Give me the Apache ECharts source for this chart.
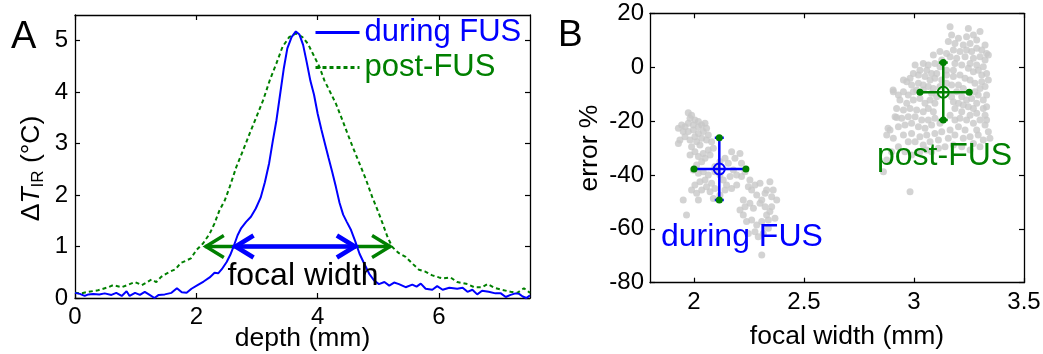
<!DOCTYPE html>
<html>
<head>
<meta charset="utf-8">
<script src="https://cdn.jsdelivr.net/npm/echarts@6/dist/echarts.min.js"></script>
<style>
html,body{margin:0;padding:0;background:#fff;}
#chart{width:1043px;height:354px;}
</style>
</head>
<body>
<div id="chart"></div>
<script>
// ---------- Panel A data ----------
var duringDepth = [0,0.08,0.16,0.22,0.30,0.40,0.49,0.60,0.68,0.77,0.85,0.90,0.99,1.07,1.15,1.23,1.31,1.38,1.48,1.59,1.68,1.76,1.84,1.92,2.02,2.12,2.22,2.30,2.36,2.42,2.50,2.56,2.62,2.68,2.74,2.82,2.90,2.98,3.06,3.13,3.20,3.26,3.32,3.38,3.44,3.50,3.57,3.64,3.70,3.76,3.82,3.88,3.94,4.00,4.06,4.12,4.18,4.24,4.30,4.36,4.42,4.48,4.55,4.62,4.69,4.77,4.85,4.93,5.01,5.10,5.18,5.26,5.34,5.45,5.56,5.63,5.70,5.78,5.89,5.97,6.06,6.17,6.30,6.39,6.47,6.55,6.63,6.71,6.82,6.93,7.02,7.10,7.18,7.26,7.32,7.38,7.44,7.50];
var duringTemp  = [0.10,0.08,0.04,0.07,0.08,0.07,0.09,0.06,0.10,0.04,0.13,0.04,0.10,0.06,0.12,0.06,0.00,0.06,0.07,0.10,0.19,0.11,0.10,0.18,0.25,0.32,0.40,0.49,0.48,0.56,0.70,0.84,1.02,1.22,1.36,1.48,1.58,1.74,1.95,2.25,2.62,3.05,3.45,3.95,4.45,4.85,5.07,5.18,5.12,4.92,4.58,4.22,3.95,3.58,3.28,3.00,2.72,2.45,2.16,1.85,1.62,1.48,1.32,1.10,0.86,0.66,0.47,0.34,0.27,0.31,0.24,0.30,0.27,0.21,0.26,0.22,0.28,0.18,0.16,0.23,0.16,0.20,0.18,0.20,0.12,0.16,0.07,0.14,0.12,0.09,0.09,0.02,0.06,0.09,0.08,0.03,0.00,0.05];
var postDepth = [0,0.10,0.22,0.38,0.55,0.63,0.77,0.88,0.99,1.10,1.18,1.26,1.34,1.42,1.50,1.58,1.66,1.74,1.82,1.91,2.00,2.11,2.22,2.30,2.38,2.47,2.55,2.66,2.77,2.88,2.99,3.10,3.21,3.32,3.42,3.53,3.64,3.75,3.84,3.95,4.03,4.11,4.22,4.30,4.41,4.49,4.58,4.69,4.80,4.90,4.99,5.07,5.15,5.23,5.34,5.45,5.56,5.67,5.78,5.89,6.00,6.06,6.19,6.30,6.47,6.58,6.71,6.80,6.91,7.04,7.18,7.29,7.40,7.50];
var postTemp  = [0.10,0.09,0.12,0.15,0.21,0.25,0.21,0.26,0.31,0.25,0.30,0.36,0.31,0.41,0.47,0.52,0.56,0.68,0.72,0.77,0.93,1.06,1.25,1.45,1.70,1.90,2.16,2.55,2.87,3.20,3.52,3.84,4.23,4.56,4.88,5.07,5.14,5.07,4.94,4.68,4.49,4.23,3.97,3.78,3.45,3.20,2.93,2.61,2.29,1.96,1.70,1.45,1.19,0.99,0.87,0.80,0.67,0.55,0.51,0.44,0.40,0.38,0.40,0.31,0.27,0.21,0.21,0.27,0.20,0.16,0.12,0.10,0.19,0.10];
// focal-width arrows: [level, left tip, right tip]
var arrowLevel = [1, 1];
var arrowLeft  = [2.14, 2.63];
var arrowRight = [5.21, 4.63];
var depthTicks = [0, 2, 4, 6];
var tempTicks  = [0, 1, 2, 3, 4, 5];

// ---------- Panel B data ----------
var duringX = [1.974,1.989,1.982,2.004,2.020,1.997,1.974,1.959,1.944,1.929,1.951,1.974,1.997,2.020,2.035,2.050,2.057,2.042,2.020,2.004,1.959,1.936,1.929,1.982,2.012,2.035,2.065,2.057,2.080,2.027,1.989,2.004,1.982,2.020,2.042,2.065,2.088,2.073,2.050,2.035,2.012,1.997,2.020,2.042,2.065,2.050,2.027,2.004,1.989,2.012,2.035,2.057,2.080,2.073,2.088,2.020,1.951,1.966,2.095,2.118,2.141,2.171,2.186,2.209,2.156,2.179,2.216,2.194,2.216,2.232,2.254,2.277,2.300,2.247,2.194,2.171,2.148,2.133,2.118,2.095,2.164,2.141,2.118,2.095,2.262,2.285,2.323,2.308,2.330,2.345,2.360,2.353,2.376,2.323,2.300,2.254,2.232,2.209,2.224,2.239,2.262,2.285,2.308,2.330,2.345,2.353,2.368,2.338,2.315,2.292,2.277,2.247,2.308,2.224,2.270,2.338];
var duringY = [-16.9,-17.8,-19.0,-19.6,-20.2,-21.5,-20.8,-22.1,-21.5,-22.7,-23.9,-23.9,-23.3,-22.1,-21.5,-20.8,-22.7,-23.9,-24.6,-25.8,-25.8,-27.0,-28.3,-27.0,-27.7,-26.4,-25.2,-27.0,-27.7,-28.9,-29.5,-31.4,-32.6,-33.2,-32.0,-30.7,-30.1,-32.6,-33.8,-35.1,-36.3,-38.2,-39.4,-38.8,-40.0,-41.9,-42.5,-43.7,-45.6,-46.8,-45.6,-44.4,-43.1,-46.2,-48.7,-49.3,-49.3,-54.9,-36.9,-35.1,-33.8,-31.4,-33.8,-32.0,-35.7,-38.2,-35.7,-40.0,-40.6,-38.8,-41.9,-43.7,-43.1,-44.4,-43.7,-45.0,-43.7,-41.9,-40.0,-38.8,-40.6,-45.6,-47.4,-45.0,-45.6,-47.4,-46.8,-49.3,-45.6,-42.5,-45.6,-48.1,-49.3,-51.8,-50.5,-50.5,-51.8,-53.0,-54.9,-57.3,-56.7,-58.6,-57.3,-54.9,-53.6,-51.8,-56.1,-59.8,-61.7,-62.9,-61.1,-61.7,-69.7,-49.3,-52.4,-56.7];
var postX = [3.164,3.247,3.171,3.202,3.239,3.270,3.300,3.285,3.255,3.224,3.186,3.156,3.323,3.308,3.330,3.285,3.262,3.239,3.209,3.179,3.148,3.118,3.088,3.164,3.194,3.232,3.270,3.300,3.323,3.338,3.255,3.285,3.315,3.330,3.308,3.292,3.270,3.247,3.217,3.186,3.095,3.065,3.042,3.005,3.027,3.058,3.080,3.095,3.073,3.050,3.020,2.997,2.982,2.967,2.952,2.989,3.020,3.042,3.065,3.088,3.179,3.209,3.232,3.255,3.277,3.308,3.338,3.323,3.300,3.277,3.292,3.330,3.315,3.202,3.224,3.194,3.217,3.239,3.262,3.285,3.270,3.247,3.224,3.202,3.179,3.171,3.186,3.217,3.255,3.285,3.315,3.323,3.300,3.270,3.239,3.209,3.186,3.164,2.906,2.929,2.952,2.974,2.997,2.936,2.967,2.997,3.027,3.050,3.073,3.095,3.103,3.088,3.065,3.042,3.012,2.982,2.952,2.921,2.914,2.944,2.974,3.005,3.035,3.065,3.095,3.118,3.080,3.050,3.020,2.989,2.959,2.929,2.891,2.876,2.906,2.952,2.989,3.027,3.058,3.095,3.126,3.164,3.202,3.232,3.186,3.156,3.111,3.073,3.042,3.005,2.974,3.330,3.323,3.338,3.292,3.255,3.224,3.270,3.315,3.345,3.300,3.255,3.217,3.179,3.141,3.111,3.080,3.058,3.027,2.989,2.959,2.929,2.898,2.876,2.861,2.982,3.285,3.330,3.171,3.148,3.126,3.012,3.042,3.080,3.118,3.148,3.118,3.179,3.103,3.148,3.126,2.882,2.905,2.921];
var postY = [15.0,14.4,11.9,10.7,11.3,11.9,13.2,10.1,8.8,8.2,8.8,9.5,8.2,6.4,5.1,7.0,5.8,6.4,5.8,6.4,5.1,5.8,4.5,3.9,3.3,3.9,3.3,3.9,2.7,4.5,1.4,0.8,0.2,-2.3,-2.9,-1.1,-1.7,-0.4,0.8,1.4,1.4,0.8,1.4,0.8,-1.1,-1.1,-2.3,-4.1,-4.8,-3.5,-2.9,-2.3,-4.1,-5.4,-4.8,-6.6,-6.0,-6.6,-7.2,-7.9,-3.5,-2.9,-4.1,-4.8,-6.0,-5.4,-4.8,-7.2,-7.9,-9.1,-10.3,-10.3,-12.2,-6.6,-7.9,-9.1,-11.0,-12.2,-11.6,-13.4,-15.3,-14.7,-14.0,-13.4,-12.8,-11.0,-15.3,-16.5,-17.8,-17.1,-15.3,-17.8,-19.6,-20.8,-19.6,-19.0,-19.6,-17.8,-9.1,-10.3,-9.1,-10.3,-9.1,-12.2,-13.4,-12.2,-11.6,-13.4,-12.2,-13.4,-11.0,-16.5,-15.3,-16.5,-15.9,-15.3,-15.9,-15.3,-18.4,-19.0,-18.4,-18.4,-19.6,-19.6,-19.0,-20.8,-21.5,-22.7,-22.1,-20.8,-21.5,-22.1,-23.3,-25.2,-26.4,-25.2,-24.6,-25.8,-25.2,-24.6,-24.0,-23.3,-22.1,-23.3,-25.2,-26.4,-27.0,-27.7,-28.9,-27.7,-27.7,-14.7,-21.5,-24.0,-25.2,-25.8,-26.4,-28.3,-27.0,-26.4,-29.5,-30.7,-29.5,-28.9,-29.5,-30.1,-31.4,-30.7,-31.4,-32.6,-31.4,-29.5,-31.4,-34.5,-38.8,-46.2,-23.3,-19.6,-6.6,-6.0,-4.8,-8.5,-8.5,-9.7,-7.2,-1.1,0.2,-1.1,-2.3,-2.9,2.7,-22.7,-8.5,-18.7];
// error-bar summaries (during FUS, post-FUS)
var errCenterX = [2.115, 3.133];
var errCenterY = [-37.8, -9.3];
var errXLow  = [2.000, 3.027];
var errXHigh = [2.236, 3.251];
var errYLow  = [-49.3, -19.6];
var errYHigh = [-26.2, 1.7];
var widthTicks = [2, 2.5, 3, 3.5];
var errorTicks = [-80, -60, -40, -20, 0, 20];

// ---------- build ----------
var BLUE = '#0000ff', GREEN = '#008000', GRAY = '#c8c8c8';
var FONT = "'Liberation Sans', Arial, sans-serif";
var TICK_FS = 24, NAME_FS = 26.5;

function zip(a, b) { return a.map(function (v, i) { return [v, b[i]]; }); }

var chart = echarts.init(document.getElementById('chart'), null, {renderer: 'canvas'});

function axisCommon(extra) {
  var o = {
    type: 'value',
    nameMoveOverlap: false,
    axisLine: {show: true, onZero: false, lineStyle: {color: '#000', width: 1.3}},
    axisTick: {show: true, inside: true, length: 5, lineStyle: {color: '#000', width: 1.2}},
    splitLine: {show: false},
    axisLabel: {color: '#000', fontSize: TICK_FS, fontFamily: FONT},
    nameTextStyle: {color: '#000', fontSize: NAME_FS, fontFamily: FONT}
  };
  for (var k in extra) {
    if (typeof extra[k] === 'object' && o[k] && !Array.isArray(extra[k])) {
      o[k] = Object.assign({}, o[k], extra[k]);
    } else o[k] = extra[k];
  }
  return o;
}

var arrowData = arrowLevel.map(function (y, i) { return [arrowLeft[i], arrowRight[i], y]; });
var arrowColors = [GREEN, BLUE];
var arrowWidths = [3.4, 4.6];

var errData = errCenterX.map(function (x, i) {
  return [x, errCenterY[i], errXLow[i], errXHigh[i], errYLow[i], errYHigh[i]];
});
var errColors = [BLUE, GREEN];

var option = {
  backgroundColor: '#fff',
  animation: false,
  textStyle: {fontFamily: FONT},
  title: [
    {text: 'A', left: 11, top: 19, padding: 0, textStyle: {fontSize: 38, fontWeight: 'normal', color: '#000', fontFamily: FONT}},
    {text: 'B', left: 558, top: 17, padding: 0, textStyle: {fontSize: 37, fontWeight: 'normal', color: '#000', fontFamily: FONT}}
  ],
  legend: {
    left: 314, top: 17, orient: 'vertical', itemWidth: 44, itemHeight: 14, itemGap: 4,
    selectedMode: false, padding: 0,
    textStyle: {fontSize: 31, fontFamily: FONT},
    lineStyle: {width: 3},
    itemStyle: {opacity: 0},
    data: [
      {name: 'during FUS', textStyle: {color: BLUE}},
      {name: 'post-FUS', textStyle: {color: GREEN}}
    ]
  },
  grid: [
    {left: 75, top: 15, width: 455, height: 283, containLabel: false, outerBoundsMode: 'none'},
    {left: 650, top: 13.3, width: 374, height: 269.4, containLabel: false, outerBoundsMode: 'none'}
  ],
  xAxis: [
    axisCommon({gridIndex: 0, position: 'bottom', min: 0, max: 7.5,
      name: 'depth (mm)', nameLocation: 'middle', nameGap: 27,
      axisTick: {customValues: depthTicks},
      axisLabel: {customValues: depthTicks, margin: 7}}),
    axisCommon({gridIndex: 0, position: 'top', min: 0, max: 7.5,
      axisTick: {customValues: depthTicks}, axisLabel: {show: false}}),
    axisCommon({gridIndex: 1, position: 'bottom', min: 1.8, max: 3.5,
      name: 'focal width (mm)', nameLocation: 'middle', nameGap: 40,
      nameTextStyle: {padding: [0, 0, 0, 20]},
      axisTick: {customValues: widthTicks},
      axisLabel: {customValues: widthTicks, margin: 8}}),
    axisCommon({gridIndex: 1, position: 'top', min: 1.8, max: 3.5,
      axisTick: {customValues: widthTicks}, axisLabel: {show: false}})
  ],
  yAxis: [
    axisCommon({gridIndex: 0, position: 'left', min: 0, max: 5.5,
      name: '{d|\u0394}{t|T}{s|IR}{n| (\u00b0C)}', nameLocation: 'middle', nameGap: 28,
      nameTextStyle: {padding: [0, 24, 0, 0], rich: {
        d: {fontSize: NAME_FS, fontFamily: FONT, color: '#000', lineHeight: 30},
        t: {fontSize: NAME_FS, fontFamily: FONT, fontStyle: 'italic', color: '#000', lineHeight: 30},
        s: {fontSize: 17, fontFamily: FONT, color: '#000', lineHeight: 17, verticalAlign: 'bottom'},
        n: {fontSize: NAME_FS, fontFamily: FONT, color: '#000', lineHeight: 30}
      }},
      axisTick: {customValues: tempTicks},
      axisLabel: {customValues: tempTicks, margin: 7}}),
    axisCommon({gridIndex: 0, position: 'right', min: 0, max: 5.5,
      axisTick: {customValues: tempTicks}, axisLabel: {show: false}}),
    axisCommon({gridIndex: 1, position: 'left', min: -80, max: 20,
      name: 'error %', nameLocation: 'middle', nameGap: 47,
      axisTick: {customValues: errorTicks},
      axisLabel: {customValues: errorTicks, margin: 6}}),
    axisCommon({gridIndex: 1, position: 'right', min: -80, max: 20,
      axisTick: {customValues: errorTicks}, axisLabel: {show: false}})
  ],
  series: [
    {
      name: 'focal width arrows', type: 'custom', xAxisIndex: 0, yAxisIndex: 0,
      data: arrowData, z: 3, silent: true,
      renderItem: function (params, api) {
        var y = api.value(2);
        var p0 = api.coord([api.value(0), y]);
        var p1 = api.coord([api.value(1), y]);
        var col = arrowColors[params.dataIndex];
        var lw = arrowWidths[params.dataIndex];
        var ah = 19, av = 11;
        var st = {stroke: col, lineWidth: lw, fill: null, lineCap: 'butt', lineJoin: 'miter'};
        return {type: 'group', children: [
          {type: 'line', shape: {x1: p0[0], y1: p0[1], x2: p1[0], y2: p1[1]}, style: st},
          {type: 'polyline', shape: {points: [[p0[0] + ah, p0[1] - av], [p0[0] + 1, p0[1]], [p0[0] + ah, p0[1] + av]]}, style: st},
          {type: 'polyline', shape: {points: [[p1[0] - ah, p1[1] - av], [p1[0] - 1, p1[1]], [p1[0] - ah, p1[1] + av]]}, style: st}
        ]};
      }
    },
    {
      name: 'post-FUS', type: 'line', xAxisIndex: 0, yAxisIndex: 0,
      data: zip(postDepth, postTemp), symbol: 'none', z: 4,
      lineStyle: {color: GREEN, width: 2, type: [4, 3]}, itemStyle: {color: GREEN}
    },
    {
      name: 'during FUS', type: 'line', xAxisIndex: 0, yAxisIndex: 0,
      data: zip(duringDepth, duringTemp), symbol: 'none', z: 5,
      lineStyle: {color: BLUE, width: 2}, itemStyle: {color: BLUE}
    },
    {
      name: 'during FUS points', type: 'scatter', xAxisIndex: 2, yAxisIndex: 2,
      data: zip(duringX, duringY), symbolSize: 7, itemStyle: {color: GRAY}, z: 2, silent: true
    },
    {
      name: 'post-FUS points', type: 'scatter', xAxisIndex: 2, yAxisIndex: 2,
      data: zip(postX, postY), symbolSize: 7, itemStyle: {color: GRAY}, z: 2, silent: true
    },
    {
      name: 'error bars', type: 'custom', xAxisIndex: 2, yAxisIndex: 2,
      data: errData, z: 6, silent: true,
      renderItem: function (params, api) {
        var c = api.coord([api.value(0), api.value(1)]);
        var xl = api.coord([api.value(2), api.value(1)]);
        var xh = api.coord([api.value(3), api.value(1)]);
        var yl = api.coord([api.value(0), api.value(4)]);
        var yh = api.coord([api.value(0), api.value(5)]);
        var col = errColors[params.dataIndex];
        var st = {stroke: col, lineWidth: 2.5, fill: null};
        var dotSt = {fill: GREEN, stroke: null};
        return {type: 'group', children: [
          {type: 'line', shape: {x1: xl[0], y1: xl[1], x2: xh[0], y2: xh[1]}, style: st},
          {type: 'line', shape: {x1: yl[0], y1: yl[1], x2: yh[0], y2: yh[1]}, style: st},
          {type: 'line', shape: {x1: yl[0] - 4.5, y1: yl[1], x2: yl[0] + 4.5, y2: yl[1]}, style: st},
          {type: 'line', shape: {x1: yh[0] - 4.5, y1: yh[1], x2: yh[0] + 4.5, y2: yh[1]}, style: st},
          {type: 'circle', shape: {cx: c[0], cy: c[1], r: 5.5}, style: {stroke: col, lineWidth: 2, fill: null}},
          {type: 'circle', shape: {cx: xl[0], cy: xl[1], r: 3.5}, style: dotSt},
          {type: 'circle', shape: {cx: xh[0], cy: xh[1], r: 3.5}, style: dotSt},
          {type: 'circle', shape: {cx: yl[0], cy: yl[1], r: 3.5}, style: dotSt},
          {type: 'circle', shape: {cx: yh[0], cy: yh[1], r: 3.5}, style: dotSt}
        ]};
      }
    }
  ],
  graphic: [
    {type: 'text', x: 303, y: 276, z: 10, silent: true,
      style: {text: 'focal width', fontSize: 32, fontFamily: FONT, fill: '#000', align: 'center', verticalAlign: 'middle'}},
    {type: 'text', x: 661, y: 237, z: 10, silent: true,
      style: {text: 'during FUS', fontSize: 32, fontFamily: FONT, fill: BLUE, align: 'left', verticalAlign: 'middle'}},
    {type: 'text', x: 877, y: 156, z: 10, silent: true,
      style: {text: 'post-FUS', fontSize: 32, fontFamily: FONT, fill: GREEN, align: 'left', verticalAlign: 'middle'}}
  ]
};
chart.setOption(option);
</script>
</body>
</html>
